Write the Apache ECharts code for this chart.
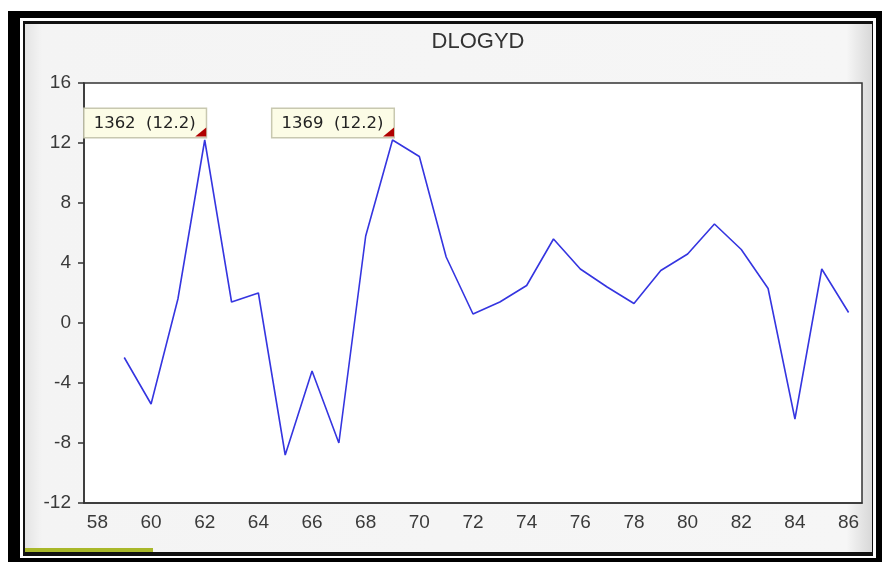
<!DOCTYPE html>
<html>
<head>
<meta charset="utf-8">
<script src="https://cdn.jsdelivr.net/npm/echarts@6/dist/echarts.min.js"></script>
<style>html,body{margin:0;padding:0;background:#fff;}#c{width:885px;height:565px;}</style>
</head>
<body>
<div id="c"></div>
<script>
// Years 1958..1986 (labels as two digits)
var years = ['58','59','60','61','62','63','64','65','66','67','68','69','70','71','72','73','74','75','76','77','78','79','80','81','82','83','84','85','86'];
var dlogyd = [null, -2.3, -5.4, 1.6, 12.2, 1.4, 2.0, -8.8, -3.2, -8.0, 5.8, 12.2, 11.1, 4.4, 0.6, 1.4, 2.5, 5.6, 3.6, 2.4, 1.3, 3.5, 4.6, 6.6, 4.9, 2.3, -6.4, 3.6, 0.7];
var yTicks = { min: -12, max: 16, interval: 4 };
var notes = [ { year: '62', value: 12.2, text: '1362  (12.2)' }, { year: '69', value: 12.2, text: '1369  (12.2)' } ];

var chart = echarts.init(document.getElementById('c'), null, { renderer: 'canvas' });
var option = {
  backgroundColor: '#ffffff',
  animation: false,
  graphic: [
    { type: 'rect', z: -10, shape: { x: 8, y: 11, width: 874, height: 551 }, style: { fill: '#000' } },
    { type: 'rect', z: -9, shape: { x: 20, y: 18, width: 856, height: 540 }, style: { fill: '#fff' } },
    { type: 'rect', z: -8, shape: { x: 23, y: 21, width: 850, height: 535 }, style: { fill: '#111' } },
    { type: 'rect', z: -7, shape: { x: 25, y: 24, width: 847, height: 528 }, style: {
        fill: { type: 'linear', x: 0, y: 0, x2: 1, y2: 0, colorStops: [ { offset: 0, color: '#e4e4e4' }, { offset: 0.02, color: '#f4f4f4' }, { offset: 0.97, color: '#f6f6f6' }, { offset: 1, color: '#d8d8d8' } ] } } },
    { type: 'rect', z: -6, shape: { x: 25, y: 548, width: 128, height: 4 }, style: { fill: '#a9b82a' } }
  ],
  title: {
    text: 'DLOGYD',
    left: 473, top: 26, textAlign: 'center',
    textStyle: { fontFamily: 'Liberation Sans, Arial', fontSize: 22, fontWeight: 'normal', color: '#333' }
  },
  grid: { left: 84, top: 83, right: 23, bottom: 62, show: true, backgroundColor: '#fff', borderColor: '#333', borderWidth: 1.5 },
  xAxis: {
    type: 'category', data: years, boundaryGap: true,
    axisLine: { onZero: false, lineStyle: { color: '#333', width: 1.5 } },
    axisTick: { interval: 0, length: 6, lineStyle: { color: '#333', width: 1.5 } },
    axisLabel: { interval: 1, margin: 10, fontFamily: 'Liberation Sans, Arial', fontSize: 19, color: '#3a3a3a' },
    splitLine: { show: false }
  },
  yAxis: {
    type: 'value', min: yTicks.min, max: yTicks.max, interval: yTicks.interval,
    axisLine: { show: true, lineStyle: { color: '#333', width: 1.5 } },
    axisTick: { show: true, length: 6, lineStyle: { color: '#333', width: 1.5 } },
    axisLabel: { margin: 13, fontFamily: 'Liberation Sans, Arial', fontSize: 19, color: '#3a3a3a' },
    splitLine: { show: false }
  },
  series: [{
    type: 'line', data: dlogyd, showSymbol: false, symbol: 'none', connectNulls: false, z: 2,
    lineStyle: { color: '#3535e0', width: 1.6 },
    markPoint: {
      symbol: 'circle',
      symbolSize: 2,
      itemStyle: { color: 'rgba(0,0,0,0)' },
      label: {
        show: true,
        position: [2, -2],
        align: 'right', verticalAlign: 'bottom',
        fontFamily: 'DejaVu Sans, Tahoma', fontSize: 16.5, color: '#222',
        backgroundColor: '#fcfce6', borderColor: '#c8c8b0', borderWidth: 1.5,
        padding: [6, 10, 5, 9],
        formatter: function (p) { return p.name; }
      },
      data: notes.map(function (n) { return { name: n.text, coord: [n.year, n.value] }; })
    }
  }, {
    type: 'scatter', z: 10, silent: true,
    data: notes.map(function (n) { return [n.year, n.value]; }),
    symbol: 'path://M0,10 L10,0 L10,10 Z',
    symbolSize: [11, 9],
    symbolOffset: [-4, -8],
    itemStyle: { color: '#b00000', opacity: 1 }
  }]
};
chart.setOption(option);
</script>
</body>
</html>
